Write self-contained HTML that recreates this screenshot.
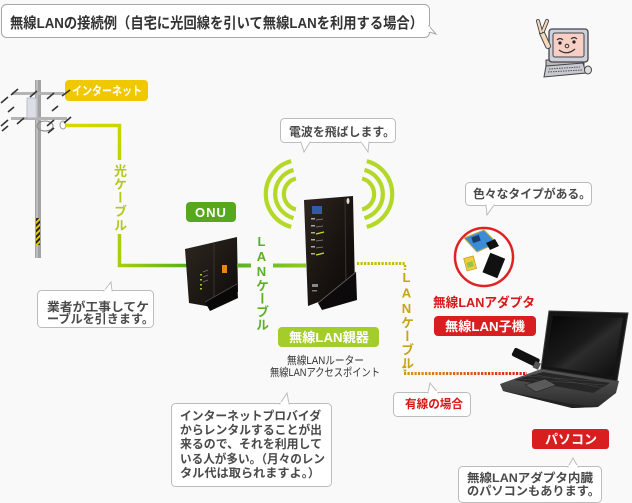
<!DOCTYPE html>
<html><head><meta charset="utf-8">
<style>
html,body{margin:0;padding:0;background:#f8f9f8;}
#c{position:relative;width:632px;height:503px;overflow:hidden;background:#f8f9f8;font-family:"Liberation Sans","Noto Sans CJK JP",sans-serif;}
svg{position:absolute;left:0;top:0;}
.v{position:absolute;writing-mode:vertical-rl;text-orientation:upright;font-size:13px;line-height:13px;width:13px;font-weight:bold;white-space:nowrap;font-family:"Liberation Sans","Noto Sans CJK JP",sans-serif;}
</style></head><body><div id="c">
<svg width="632" height="503" viewBox="0 0 632 503" xmlns="http://www.w3.org/2000/svg" font-family="Liberation Sans, Noto Sans CJK JP, sans-serif">
<defs>
<linearGradient id="gFib1" gradientUnits="userSpaceOnUse" x1="60" y1="0" x2="120" y2="0"><stop offset="0" stop-color="#e2d400"/><stop offset="1" stop-color="#cad400"/></linearGradient>
<linearGradient id="gFib2" gradientUnits="userSpaceOnUse" x1="0" y1="125" x2="0" y2="266"><stop offset="0" stop-color="#cad400"/><stop offset="1" stop-color="#a6cc10"/></linearGradient>
<linearGradient id="gFib3" gradientUnits="userSpaceOnUse" x1="120" y1="0" x2="186" y2="0"><stop offset="0" stop-color="#a6cc10"/><stop offset="1" stop-color="#58b020"/></linearGradient>
<linearGradient id="gLan" gradientUnits="userSpaceOnUse" x1="237" y1="0" x2="305" y2="0"><stop offset="0" stop-color="#5cb224"/><stop offset="1" stop-color="#90c824"/></linearGradient>
<linearGradient id="gDot2" gradientUnits="userSpaceOnUse" x1="405" y1="0" x2="527" y2="0"><stop offset="0" stop-color="#d09a10"/><stop offset="0.5" stop-color="#dc5a18"/><stop offset="1" stop-color="#e01818"/></linearGradient>
<linearGradient id="gRouter" x1="0" y1="0" x2="1" y2="1"><stop offset="0" stop-color="#2e2620"/><stop offset="0.6" stop-color="#17120f"/><stop offset="1" stop-color="#0a0808"/></linearGradient>
<linearGradient id="gOnu" x1="0" y1="0" x2="1" y2="1"><stop offset="0" stop-color="#2e2721"/><stop offset="1" stop-color="#0e0b09"/></linearGradient>
<linearGradient id="gScreen" x1="0" y1="0" x2="1" y2="1"><stop offset="0" stop-color="#050505"/><stop offset="0.45" stop-color="#1a1a1a"/><stop offset="0.55" stop-color="#2c2c2c"/><stop offset="1" stop-color="#0a0a0a"/></linearGradient>
<linearGradient id="gBase" x1="0" y1="0" x2="0" y2="1"><stop offset="0" stop-color="#5a5a5a"/><stop offset="1" stop-color="#2a2a2a"/></linearGradient>
<pattern id="haz" width="4" height="4" patternUnits="userSpaceOnUse" patternTransform="rotate(45)"><rect width="4" height="4" fill="#e8c800"/><rect width="2" height="4" fill="#222"/></pattern>
</defs>

<!-- title bubble -->
<rect x="1.5" y="4.5" width="428" height="33" rx="5" fill="#fff" stroke="#a8a8a8"/>
<polygon points="429,26 436,34 429,32" fill="#fff" stroke="#a8a8a8"/>
<rect x="428" y="26.5" width="2" height="5.5" fill="#fff"/>
<text x="10" y="28" font-size="15" font-weight="bold" fill="#333" textLength="413" lengthAdjust="spacingAndGlyphs">無線LANの接続例（自宅に光回線を引いて無線LANを利用する場合）</text>

<!-- character -->
<g>
<rect x="546" y="60" width="38" height="6" fill="#bbb" stroke="#444" stroke-width="1"/>
<polygon points="546,66 583,63 586,73 544,77" fill="#c8c8d0" stroke="#444" stroke-width="1"/>
<path d="M549,69 L580,67 M548,72 L582,70" stroke="#555" stroke-width="1" stroke-dasharray="1.5 1"/>
<ellipse cx="588" cy="70" rx="3.5" ry="4" fill="#ddd" stroke="#444" stroke-width="1"/>
<rect x="549" y="29" width="39" height="33" rx="3" fill="#cfd0de" stroke="#444" stroke-width="1.3"/>
<rect x="553" y="33" width="31" height="24" rx="2" fill="#f8cfc4" stroke="#444" stroke-width="1"/>
<path d="M557,40 q3,-3 6,0 M571,39 q3,-3 6,0" stroke="#333" stroke-width="1.2" fill="none"/>
<circle cx="560" cy="43" r="1.6" fill="#222"/><circle cx="574" cy="42" r="1.6" fill="#222"/>
<circle cx="567" cy="46" r="1.8" fill="none" stroke="#333" stroke-width="1"/>
<path d="M559,50 q8,6 16,-1" stroke="#333" stroke-width="1.2" fill="none"/>
<path d="M548,46 L542,33" stroke="#444" stroke-width="6" stroke-linecap="round"/>
<path d="M548,46 L542,33" stroke="#f6d8bf" stroke-width="4" stroke-linecap="round"/>
<path d="M541,32 L538,21 M543,31 L547,21" stroke="#444" stroke-width="4" stroke-linecap="round"/>
<path d="M541,32 L538,21 M543,31 L547,21" stroke="#f6d8bf" stroke-width="2.2" stroke-linecap="round"/>
</g>

<!-- internet label -->
<rect x="65" y="80" width="83" height="21" rx="4" fill="#f0c800"/>
<text x="72" y="95" font-size="12" font-weight="bold" fill="#fff" textLength="70" lengthAdjust="spacingAndGlyphs">インターネット</text>

<!-- pole -->
<g>
<rect x="35" y="80" width="6" height="178" fill="#a2a2a2"/>
<rect x="36" y="80" width="2" height="178" fill="#bdbdbd"/>
<rect x="36" y="218" width="4" height="27" fill="url(#haz)"/>
<rect x="12" y="92" width="52" height="3" fill="#b4b4b4"/>
<rect x="11" y="117" width="56" height="3" fill="#b4b4b4"/>
<rect x="27" y="98" width="10" height="20" fill="#d8dde4" stroke="#aab" stroke-width="0.8" opacity="0.9"/>
<ellipse cx="45" cy="126" rx="8" ry="5" fill="none" stroke="#888" stroke-width="1"/>
<ellipse cx="63" cy="125" rx="3" ry="4" fill="#fff" stroke="#999" stroke-width="1"/>
<g stroke="#333" stroke-width="1.6">
<line x1="1" y1="103" x2="8" y2="97"/><line x1="11" y1="95" x2="18" y2="89"/><line x1="30" y1="97" x2="37" y2="91"/><line x1="47" y1="99" x2="54" y2="93"/><line x1="62" y1="96" x2="70" y2="90"/>
<line x1="1" y1="126" x2="8" y2="120"/><line x1="17" y1="124" x2="24" y2="118"/><line x1="47" y1="126" x2="54" y2="120"/><line x1="64" y1="123" x2="71" y2="117"/>
<line x1="8" y1="112" x2="14" y2="107"/><line x1="52" y1="111" x2="58" y2="106"/><line x1="48" y1="133" x2="54" y2="128"/><line x1="2" y1="131" x2="8" y2="126"/>
</g>
</g>

<!-- fiber cable -->
<line x1="65" y1="125.5" x2="121" y2="125.5" stroke="url(#gFib1)" stroke-width="3.5"/>
<line x1="119.5" y1="124" x2="119.5" y2="160" stroke="url(#gFib2)" stroke-width="3.5"/>
<line x1="119.5" y1="234" x2="119.5" y2="267" stroke="url(#gFib2)" stroke-width="3.5"/>
<line x1="118" y1="265.5" x2="187" y2="265.5" stroke="url(#gFib3)" stroke-width="3.5"/>

<!-- gyousha bubble -->
<rect x="37.5" y="290.5" width="116" height="37" rx="4" fill="#fff" stroke="#bcbcbc"/>
<polygon points="104,291 111,282 112,291" fill="#fff" stroke="#bcbcbc"/>
<rect x="104.5" y="289.5" width="7" height="2" fill="#fff"/>
<text x="47" y="311" font-size="12" font-weight="bold" fill="#4a4a4a" textLength="102" lengthAdjust="spacingAndGlyphs">業者が工事してケ</text>
<text x="47" y="323" font-size="12" font-weight="bold" fill="#4a4a4a" textLength="107" lengthAdjust="spacingAndGlyphs">ーブルを引きます。</text>

<!-- ONU label -->
<rect x="186" y="202" width="50" height="20" rx="4" fill="#56a81e"/>
<text x="211" y="217" font-size="13" font-weight="bold" fill="#fff" text-anchor="middle" letter-spacing="1">ONU</text>

<!-- ONU device -->
<polygon points="185,249 237,237 238,292 212,307 189,303" fill="url(#gOnu)"/>
<line x1="214" y1="243" x2="214" y2="305" stroke="#3a302a" stroke-width="1"/>
<polygon points="205,302 237,284 238,298 210,311" fill="#0a0807"/>
<line x1="205" y1="302" x2="237" y2="284" stroke="#4a4a4a" stroke-width="1"/>
<rect x="222" y="265" width="5" height="8" fill="#e08a10"/>
<g fill="#9acd32"><rect x="200" y="274" width="2" height="1.5"/><rect x="200" y="279" width="2" height="1.5"/><rect x="200" y="284" width="2" height="1.5"/><rect x="200" y="288" width="2" height="1.5"/></g>
<g stroke="#777" stroke-width="0.7"><line x1="203" y1="272" x2="208" y2="270"/><line x1="203" y1="277" x2="208" y2="275"/><line x1="203" y1="282" x2="208" y2="280"/></g>

<!-- LAN cable green -->
<line x1="237" y1="265.5" x2="251" y2="265.5" stroke="url(#gLan)" stroke-width="4"/>
<line x1="273" y1="265.5" x2="306" y2="265.5" stroke="url(#gLan)" stroke-width="4"/>

<!-- waves -->
<g fill="none" stroke="#b4d828" stroke-width="4.2">
<path d="M291.2,161.1 A34,34 0 0 0 291.2,226.9"/>
<path d="M293.5,169.9 A25,25 0 0 0 293.5,218.1"/>
<path d="M295.9,178.5 A16,16 0 0 0 295.9,209.5"/>
<path d="M366.8,161.1 A34,34 0 0 1 366.8,226.9"/>
<path d="M364.5,169.9 A25,25 0 0 1 364.5,218.1"/>
<path d="M362.1,178.5 A16,16 0 0 1 362.1,209.5"/>
</g>

<!-- denpa bubble -->
<rect x="280.5" y="118.5" width="115" height="24" rx="4" fill="#fff" stroke="#bcbcbc"/>
<polygon points="301,142 304,152 310,142" fill="#fff" stroke="#bcbcbc"/>
<polygon points="361,142 368,152 369,142" fill="#fff" stroke="#bcbcbc"/>
<rect x="301.5" y="141" width="8" height="2" fill="#fff"/><rect x="361.5" y="141" width="7" height="2" fill="#fff"/>
<text x="289" y="136" font-size="12" font-weight="bold" fill="#4a4a4a" textLength="106" lengthAdjust="spacingAndGlyphs">電波を飛ばします。</text>

<!-- router -->
<polygon points="304,200 353,196 355,288 308,306" fill="url(#gRouter)"/>
<line x1="345" y1="198" x2="346" y2="292" stroke="#3a322c" stroke-width="1"/>
<polygon points="318,303 356,272 357,300 322,310" fill="#0c0a0a"/>
<line x1="318" y1="303" x2="356" y2="272" stroke="#5a5a5a" stroke-width="1"/>
<ellipse cx="348" cy="201" rx="1.5" ry="3" fill="#ddd"/>
<rect x="312" y="206" width="10" height="8" fill="#3558a8"/>
<g fill="#aaa"><rect x="311" y="218" width="4" height="1.5"/><rect x="311" y="225" width="4" height="1.5"/><rect x="311" y="232" width="4" height="1.5"/><rect x="311" y="239" width="4" height="1.5"/><rect x="311" y="246" width="4" height="1.5"/><rect x="311" y="253" width="4" height="1.5"/></g>
<g stroke="#888" stroke-width="0.8"><line x1="316" y1="220" x2="323" y2="219"/><line x1="316" y1="227" x2="323" y2="226"/><line x1="316" y1="241" x2="323" y2="240"/><line x1="316" y1="248" x2="323" y2="247"/></g>
<g stroke="#c8e020" stroke-width="1.4"><line x1="316" y1="234" x2="324" y2="232"/><line x1="316" y1="255" x2="324" y2="253"/></g>
<rect x="312" y="284" width="6" height="3" fill="#888"/><rect x="312" y="290" width="5" height="1.5" fill="#777"/>

<!-- oyaki label -->
<rect x="278" y="327" width="101" height="20" rx="4" fill="#a4cc2a"/>
<text x="289" y="342" font-size="13" font-weight="bold" fill="#fff" textLength="80" lengthAdjust="spacingAndGlyphs">無線LAN親器</text>
<text x="287" y="364" font-size="11" fill="#333" textLength="77" lengthAdjust="spacingAndGlyphs">無線LANルーター</text>
<text x="270" y="376" font-size="11" fill="#333" textLength="110" lengthAdjust="spacingAndGlyphs">無線LANアクセスポイント</text>

<!-- dotted LAN -->
<line x1="357" y1="263.5" x2="406" y2="263.5" stroke="#c8bc00" stroke-width="3" stroke-dasharray="2.2 1.3"/>
<line x1="405" y1="265" x2="405" y2="270" stroke="#c8b400" stroke-width="2.5" stroke-dasharray="2 1.5"/>
<line x1="405" y1="366" x2="405" y2="372" stroke="#d0a010" stroke-width="2.5" stroke-dasharray="2 1.5"/>
<line x1="404" y1="373.5" x2="527" y2="373.5" stroke="url(#gDot2)" stroke-width="3" stroke-dasharray="2.2 1.3"/>

<!-- types bubble -->
<rect x="465.5" y="182.5" width="126" height="23" rx="4" fill="#fff" stroke="#bcbcbc"/>
<polygon points="486,205 487,215 494,205" fill="#fff" stroke="#bcbcbc"/>
<rect x="486.5" y="204" width="7" height="2" fill="#fff"/>
<text x="473" y="198" font-size="12" font-weight="bold" fill="#4a4a4a" textLength="118" lengthAdjust="spacingAndGlyphs">色々なタイプがある。</text>

<!-- adapter circle -->
<circle cx="484" cy="257" r="29" fill="#fff" stroke="#e02222" stroke-width="2.5"/>
<polygon points="464,238 484,230 497,243 477,252" fill="#3a8cd8" stroke="#c8b040" stroke-width="1"/>
<rect x="472" y="236" width="8" height="6" fill="#1a3a6a" transform="rotate(-20 476 239)"/>
<polygon points="486,243 495,239 499,246 490,250" fill="#111"/>
<rect x="465" y="257" width="10" height="13" fill="#f0cc3a" stroke="#b89020" stroke-width="0.6" transform="rotate(-15 470 263)"/>
<rect x="467" y="262" width="6" height="5" fill="#8cc84a" transform="rotate(-15 470 264)"/>
<rect x="486" y="255" width="16" height="21" fill="#111" transform="rotate(22 494 265)"/>

<!-- adapter text -->
<text x="433" y="307" font-size="13" font-weight="bold" fill="#d81818" textLength="102" lengthAdjust="spacingAndGlyphs">無線LANアダプタ</text>
<rect x="434" y="316" width="102" height="20" rx="4" fill="#d81e1e"/>
<text x="445" y="331" font-size="13" font-weight="bold" fill="#fff" textLength="80" lengthAdjust="spacingAndGlyphs">無線LAN子機</text>

<!-- laptop -->
<polygon points="500,384 541,369 619,381 616,393 598,407 572,408 503,391" fill="url(#gBase)"/>
<polygon points="514,380 543,372 610,383 593,393 560,387" fill="#262626"/>
<g stroke="#444" stroke-width="0.6"><line x1="520" y1="379" x2="605" y2="385"/><line x1="526" y1="376" x2="607" y2="382"/><line x1="532" y1="374" x2="603" y2="388"/></g>
<polygon points="525,385 545,379 556,385 536,392" fill="#5a5a5a" stroke="#222" stroke-width="0.6"/>
<polygon points="503,391 572,408 598,407 572,404" fill="#222"/>
<polygon points="549,311 628,313 617,381 541,369" fill="#151515" stroke="#3a3a3a" stroke-width="1"/>
<polygon points="553,316 623,318 613,376 545,366" fill="url(#gScreen)"/>
<rect x="512" y="353" width="28" height="9" rx="2" fill="#111" transform="rotate(26 526 357)"/>
<rect x="534" y="362" width="6" height="7" fill="#555" transform="rotate(26 537 365)"/>

<!-- wired bubble -->
<rect x="393.5" y="392.5" width="77" height="24" rx="4" fill="#fff" stroke="#bcbcbc"/>
<polygon points="428,393 430,383 438,393" fill="#fff" stroke="#bcbcbc"/>
<rect x="428.5" y="391" width="9" height="2.5" fill="#fff"/>
<text x="405" y="408" font-size="12" font-weight="bold" fill="#d81818" textLength="58" lengthAdjust="spacingAndGlyphs">有線の場合</text>

<!-- ISP bubble -->
<rect x="171.5" y="403.5" width="160" height="83" rx="4" fill="#fff" stroke="#bcbcbc"/>
<polygon points="280,404 287,393 289,404" fill="#fff" stroke="#bcbcbc"/>
<rect x="280.5" y="402" width="8" height="2.5" fill="#fff"/>
<g font-size="12" font-weight="bold" fill="#4a4a4a">
<text x="180" y="420" textLength="141" lengthAdjust="spacingAndGlyphs">インターネットプロバイダ</text>
<text x="180" y="434" textLength="142" lengthAdjust="spacingAndGlyphs">からレンタルすることが出</text>
<text x="180" y="448" textLength="142" lengthAdjust="spacingAndGlyphs">来るので、それを利用して</text>
<text x="180" y="463" textLength="145" lengthAdjust="spacingAndGlyphs">いる人が多い。（月々のレン</text>
<text x="180" y="477" textLength="140" lengthAdjust="spacingAndGlyphs">タル代は取られますよ。）</text>
</g>

<!-- pasokon -->
<rect x="532" y="429" width="77" height="20" rx="3" fill="#d81e1e"/>
<text x="545" y="444" font-size="13" font-weight="bold" fill="#fff" textLength="52" lengthAdjust="spacingAndGlyphs">パソコン</text>

<!-- bottom right bubble -->
<rect x="458.5" y="466.5" width="143" height="36" rx="4" fill="#fff" stroke="#bcbcbc"/>
<polygon points="568,467 573,458 578,467" fill="#fff" stroke="#bcbcbc"/>
<rect x="568.5" y="465" width="9" height="2.5" fill="#fff"/>
<text x="467" y="482" font-size="12" font-weight="bold" fill="#4a4a4a" textLength="126" lengthAdjust="spacingAndGlyphs">無線LANアダプタ内臓</text>
<text x="467" y="495" font-size="12" font-weight="bold" fill="#4a4a4a" textLength="133" lengthAdjust="spacingAndGlyphs">のパソコンもあります。</text>
</svg>

<div class="v" style="left:113px;top:164px;color:#b4c818;letter-spacing:0.6px">光ケーブル</div>
<div class="v" style="left:255px;top:234px;color:#5cb028;letter-spacing:0px">LANケーブル</div>
<div class="v" style="left:400px;top:270px;color:#c8a418;letter-spacing:0.4px">LANケーブル</div>
</div></body></html>
